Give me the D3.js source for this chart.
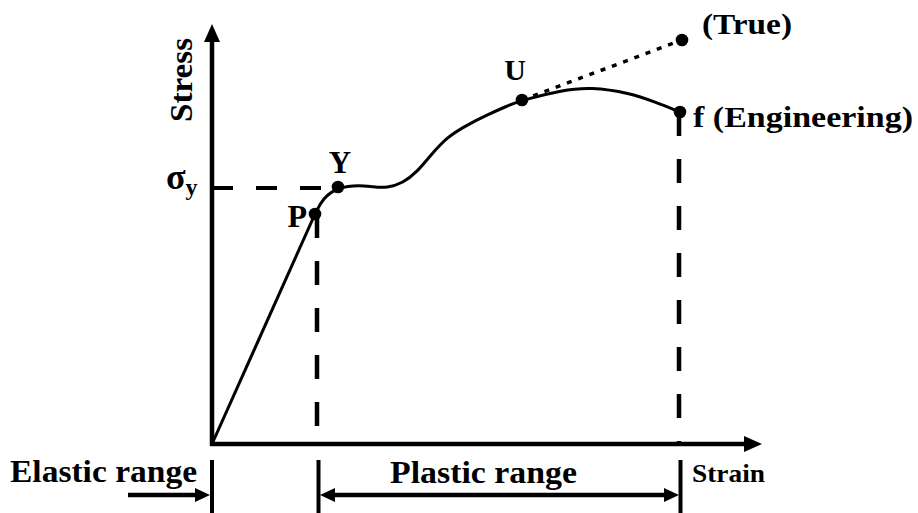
<!DOCTYPE html>
<html>
<head>
<meta charset="utf-8">
<script src="https://cdn.jsdelivr.net/npm/d3@7"></script>
<style>
  body { margin: 0; background: #fff; }
  svg { display: block; }
  text { font-family: "Liberation Serif", "Times New Roman", Times, serif; font-weight: bold; fill: #000; }
</style>
</head>
<body>
<div id="chart"></div>
<script>
const FRAME_WIDTH = 918;
const FRAME_HEIGHT = 513;

// curve (arbitrary units, strain / stress)
const STRAIN = [0, 10.3, 11.1, 12.6, 14.8, 16.1, 17.5, 19.1, 20.5, 21.8, 23.5, 25.5, 27.5, 29.5, 31.0, 35.1, 37.8, 41.8, 44.3, 46.8];
const STRESS = [0, 23.0, 24.6, 25.7, 25.9, 25.7, 25.6, 26.1, 27.2, 28.8, 30.7, 31.9, 32.9, 33.8, 34.4, 35.4, 35.7, 35.1, 34.2, 33.2];

// named points on the curve (index into the arrays above)
const POINT_NAMES = ["P", "Y", "U", "f"];
const POINT_INDEX = [1, 3, 14, 19];

// true stress end point
const TRUE_STRAIN = 47.0;
const TRUE_STRESS = 40.4;

// range boundaries along strain
const RANGE_EDGES = [0, 10.5, 46.7];
const RANGE_LABELS = ["Elastic range", "Plastic range"];

const AXIS_MAX = {strain: 55, stress: 42};

const X_SCALE = d3.scaleLinear().domain([0, AXIS_MAX.strain]).range([212, 762]);
const Y_SCALE = d3.scaleLinear().domain([0, AXIS_MAX.stress]).range([444, 24]);

const FRAME = d3.select("#chart")
  .append("svg")
    .attr("width", FRAME_WIDTH)
    .attr("height", FRAME_HEIGHT);

const pts = STRAIN.map((s, i) => ({strain: s, stress: STRESS[i]}));
const named = POINT_NAMES.map((n, i) => ({name: n, ...pts[POINT_INDEX[i]]}));
const P = named[0], YLD = named[1], U = named[2], F = named[3];

// arrow head helper, dir: "up", "right", "left"
function arrowHead(x, y, dir, len, half) {
  let d;
  if (dir == "up") d = `M${x},${y} L${x - half},${y + len} L${x + half},${y + len} Z`;
  if (dir == "right") d = `M${x},${y} L${x - len},${y - half} L${x - len},${y + half} Z`;
  if (dir == "left") d = `M${x},${y} L${x + len},${y - half} L${x + len},${y + half} Z`;
  FRAME.append("path").attr("d", d).attr("fill", "#000");
}

// axes
const x0 = X_SCALE(0), y0 = Y_SCALE(0);
FRAME.append("line")
  .attr("x1", x0).attr("y1", y0 + 2)
  .attr("x2", x0).attr("y2", Y_SCALE(AXIS_MAX.stress) + 14)
  .attr("stroke", "#000").attr("stroke-width", 4.5);
arrowHead(x0, Y_SCALE(AXIS_MAX.stress), "up", 18, 8);

FRAME.append("line")
  .attr("x1", x0 - 2).attr("y1", y0)
  .attr("x2", X_SCALE(AXIS_MAX.strain) - 14).attr("y2", y0)
  .attr("stroke", "#000").attr("stroke-width", 4.5);
arrowHead(X_SCALE(AXIS_MAX.strain), y0, "right", 18, 8);

// yield stress dashed line
FRAME.append("line")
  .attr("x1", x0).attr("y1", Y_SCALE(YLD.stress) + 1)
  .attr("x2", X_SCALE(YLD.strain)).attr("y2", Y_SCALE(YLD.stress) + 1)
  .attr("stroke", "#000").attr("stroke-width", 4)
  .attr("stroke-dasharray", "21,23");

// dashed verticals at P and f
[[RANGE_EDGES[1], P.stress], [RANGE_EDGES[2], F.stress]].forEach(([s, v]) => {
  FRAME.append("line")
    .attr("x1", X_SCALE(s)).attr("y1", Y_SCALE(v))
    .attr("x2", X_SCALE(s)).attr("y2", y0)
    .attr("stroke", "#000").attr("stroke-width", 4.5)
    .attr("stroke-dasharray", "24,23");
});

// elastic part: straight line
FRAME.append("path")
  .datum(pts.slice(0, 2))
  .attr("d", d3.line().x(d => X_SCALE(d.strain)).y(d => Y_SCALE(d.stress)))
  .attr("fill", "none").attr("stroke", "#000").attr("stroke-width", 3);

// plastic part: smooth curve
FRAME.append("path")
  .datum(pts.slice(1))
  .attr("d", d3.line().curve(d3.curveBasis)
    .x(d => X_SCALE(d.strain)).y(d => Y_SCALE(d.stress)))
  .attr("fill", "none").attr("stroke", "#000").attr("stroke-width", 3);

// true stress dotted line
FRAME.append("line")
  .attr("x1", X_SCALE(U.strain)).attr("y1", Y_SCALE(U.stress))
  .attr("x2", X_SCALE(TRUE_STRAIN)).attr("y2", Y_SCALE(TRUE_STRESS))
  .attr("stroke", "#000").attr("stroke-width", 3.5)
  .attr("stroke-dasharray", "5,7");

// dots
FRAME.selectAll("circle")
  .data(named.concat([{name: "True", strain: TRUE_STRAIN, stress: TRUE_STRESS}]))
  .enter()
  .append("circle")
    .attr("cx", d => X_SCALE(d.strain))
    .attr("cy", d => Y_SCALE(d.stress))
    .attr("r", 6.3)
    .attr("fill", "#000");

// point labels
FRAME.append("text").text("P")
  .attr("x", X_SCALE(P.strain) - 8).attr("y", Y_SCALE(P.stress) + 13)
  .attr("text-anchor", "end").attr("font-size", 32);
FRAME.append("text").text("Y")
  .attr("x", X_SCALE(YLD.strain) + 2).attr("y", Y_SCALE(YLD.stress) - 14)
  .attr("text-anchor", "middle").attr("font-size", 31);
FRAME.append("text").text("U")
  .attr("x", X_SCALE(U.strain) - 7).attr("y", Y_SCALE(U.stress) - 20)
  .attr("text-anchor", "middle").attr("font-size", 30);
FRAME.append("text").text("f (Engineering)")
  .attr("x", X_SCALE(F.strain) + 13).attr("y", Y_SCALE(F.stress) + 15)
  .attr("font-size", 30)
  .attr("textLength", 220).attr("lengthAdjust", "spacingAndGlyphs");
FRAME.append("text").text("(True)")
  .attr("x", X_SCALE(TRUE_STRAIN) + 20).attr("y", Y_SCALE(TRUE_STRESS) - 6)
  .attr("font-size", 29)
  .attr("textLength", 90).attr("lengthAdjust", "spacingAndGlyphs");

// sigma_y label
const sig = FRAME.append("text")
  .attr("x", 166).attr("y", Y_SCALE(YLD.stress) + 2);
sig.append("tspan").text("σ").attr("font-size", 36);
sig.append("tspan").text("y").attr("font-size", 24).attr("dy", 6);

// axis titles
FRAME.append("text").text("Stress")
  .attr("transform", `translate(${x0 - 20},80) rotate(-90)`)
  .attr("text-anchor", "middle").attr("font-size", 32)
  .attr("textLength", 84).attr("lengthAdjust", "spacingAndGlyphs");
FRAME.append("text").text("Strain")
  .attr("x", 692).attr("y", 482)
  .attr("font-size", 26)
  .attr("textLength", 73).attr("lengthAdjust", "spacingAndGlyphs");

// range markers below the axis
RANGE_EDGES.forEach(s => {
  FRAME.append("line")
    .attr("x1", X_SCALE(s) + (s > 0 ? 1.5 : 0)).attr("y1", y0 + 16)
    .attr("x2", X_SCALE(s) + (s > 0 ? 1.5 : 0)).attr("y2", FRAME_HEIGHT)
    .attr("stroke", "#000").attr("stroke-width", 4);
});

// elastic arrow (points into origin)
FRAME.append("line")
  .attr("x1", 128).attr("y1", 495)
  .attr("x2", x0 - 14).attr("y2", 495)
  .attr("stroke", "#000").attr("stroke-width", 4.5);
arrowHead(x0 - 2, 495, "right", 15, 7);

// plastic double arrow
const pa = X_SCALE(RANGE_EDGES[1]) + 3, pb = X_SCALE(RANGE_EDGES[2]);
FRAME.append("line")
  .attr("x1", pa + 12).attr("y1", 495)
  .attr("x2", pb - 12).attr("y2", 495)
  .attr("stroke", "#000").attr("stroke-width", 4.5);
arrowHead(pa, 495, "left", 15, 7);
arrowHead(pb, 495, "right", 15, 7);

// range labels
FRAME.append("text").text(RANGE_LABELS[0])
  .attr("x", 10).attr("y", 482).attr("font-size", 31)
  .attr("textLength", 187).attr("lengthAdjust", "spacingAndGlyphs");
FRAME.append("text").text(RANGE_LABELS[1])
  .attr("x", 390).attr("y", 483).attr("font-size", 31)
  .attr("textLength", 187).attr("lengthAdjust", "spacingAndGlyphs");
</script>
</body>
</html>
